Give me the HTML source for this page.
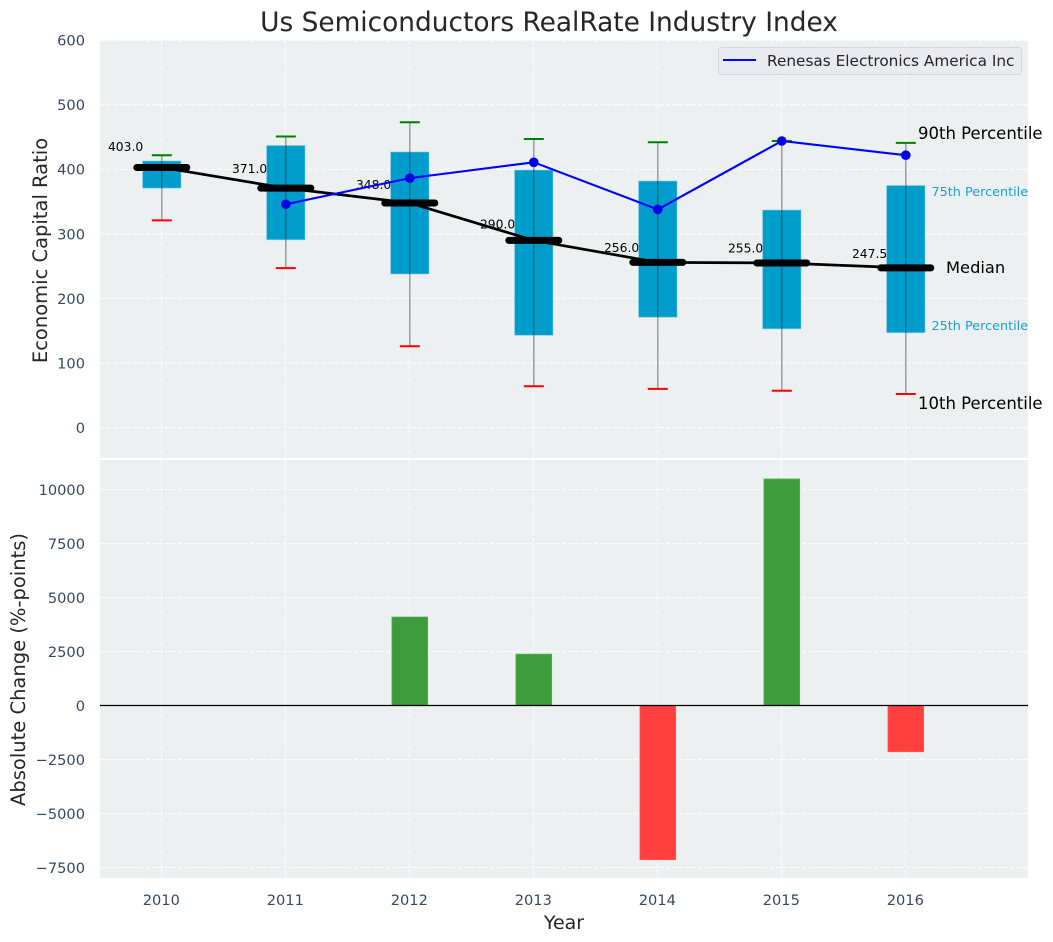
<!DOCTYPE html>
<html lang="en">
<head>
<meta charset="utf-8">
<title>Us Semiconductors RealRate Industry Index</title>
<style>
html,body{margin:0;padding:0;background:#fff;}
svg{display:block;font-family:"DejaVu Sans","Liberation Sans",sans-serif;}
</style>
</head>
<body>
<svg id="chart" xmlns="http://www.w3.org/2000/svg" width="1053" height="942" viewBox="0 0 1053 942"></svg>
<script>
const years = [2010, 2011, 2012, 2013, 2014, 2015, 2016];
const p90 = [422, 451, 473, 447, 442, 444, 441];
const p75 = [413, 437, 427, 399, 382, 337, 375];
const medians = [403, 371, 348, 290, 256, 255, 247.5];
const p25 = [371, 291, 238, 143, 171, 153, 147];
const p10 = [321, 247, 126, 64, 60, 57, 52];
const companyYears = [2011, 2012, 2013, 2014, 2015, 2016];
const companyValues = [346, 386.5, 411, 338, 444, 422];
const changeYears = [2012, 2013, 2014, 2015, 2016];
const changeValues = [4097, 2380, -7140, 10490, -2140];
const topTicks = [0, 100, 200, 300, 400, 500, 600];
const bottomTicks = [-7500, -5000, -2500, 0, 2500, 5000, 7500, 10000];

const xS = v => 161.8 + (v - 2010) * 124;
const yTop = v => 427.6 - v * 0.6455;
const yBot = v => 705.5 - v * 0.0216;

const svg = document.getElementById('chart');
const NS = 'http://www.w3.org/2000/svg';
function mk(tag, props, text) {
  const el = document.createElementNS(NS, tag);
  for (const k in props) el.setAttribute(k, props[k]);
  if (text !== undefined) el.textContent = text;
  svg.appendChild(el);
  return el;
}
let el;

// panels
el = mk('rect', {x: 100, y: 40, width: 928, height: 418, fill: '#ecf0f1'});


el = mk('rect', {x: 100, y: 460, width: 928, height: 418, fill: '#ecf0f1'});



const grid = {stroke: '#ffffff', 'stroke-width': 1.1, 'stroke-dasharray': '4.5 2', opacity: 0.9};

// vertical grid and x tick labels
years.forEach(y => {
  el = mk('line', Object.assign({x1: xS(y) - 0.3, x2: xS(y) - 0.3, y1: 40, y2: 458}, grid));
  
  
  el = mk('line', Object.assign({x1: xS(y) - 0.3, x2: xS(y) - 0.3, y1: 460, y2: 878}, grid));
  
  
  el = mk('text', {x: xS(y) - 0.5, y: 905, 'text-anchor': 'middle', 'font-size': 14.6, fill: '#34495e'}, String(y));
  
  
});

// top y grid and ticks
topTicks.forEach(t => {
  el = mk('line', Object.assign({x1: 100, x2: 1028, y1: yTop(t), y2: yTop(t)}, grid));
  
  
  el = mk('text', {x: 85, y: yTop(t) + 5.3, 'text-anchor': 'end', 'font-size': 14.6, fill: '#34495e'}, String(t));
  
  
});

// bottom y grid and ticks
bottomTicks.forEach(t => {
  el = mk('line', Object.assign({x1: 100, x2: 1028, y1: yBot(t), y2: yBot(t)}, grid));
  
  
  el = mk('text', {x: 85, y: yBot(t) + 5.3, 'text-anchor': 'end', 'font-size': 14.6, fill: '#34495e'}, String(t).replace('-', '\u2212'));
  
  
});

// median value labels (beneath boxes)
years.forEach((y, i) => {
  el = mk('text', {x: xS(y) - 18.6, y: yTop(medians[i] * 1.0625), 'text-anchor': 'end', 'font-size': 12.3, fill: '#000'}, medians[i].toFixed(1));
  
  
});

// interquartile boxes
years.forEach((y, i) => {
  el = mk('rect', {x: xS(y) - 19.2, y: yTop(p75[i]), width: 38.4, height: yTop(p25[i]) - yTop(p75[i]), fill: '#009ccc', stroke: '#7fcde6', 'stroke-width': 0.8, 'stroke-opacity': 0.7});
  
  
});

// whiskers and caps
years.forEach((y, i) => {
  el = mk('line', {x1: xS(y), x2: xS(y), y1: yTop(p90[i]), y2: yTop(p10[i]), stroke: '#333', 'stroke-opacity': 0.5, 'stroke-width': 1.4});
  
  
  el = mk('line', {x1: xS(y) - 10, x2: xS(y) + 10, y1: yTop(p90[i]), y2: yTop(p90[i]), stroke: '#008000', 'stroke-width': 2});
  
  
  el = mk('line', {x1: xS(y) - 10, x2: xS(y) + 10, y1: yTop(p10[i]), y2: yTop(p10[i]), stroke: '#ff0000', 'stroke-width': 2});
  
  
});

// median line
el = mk('polyline', {points: years.map((y, i) => xS(y) + ',' + yTop(medians[i])).join(' '), fill: 'none', stroke: '#000', 'stroke-width': 2.7});


years.forEach((y, i) => {
  el = mk('line', {x1: xS(y) - 25, x2: xS(y) + 25, y1: yTop(medians[i]), y2: yTop(medians[i]), stroke: '#000', 'stroke-width': 7, 'stroke-linecap': 'round'});
  
  
});

// company series
el = mk('polyline', {points: companyYears.map((y, i) => xS(y) + ',' + yTop(companyValues[i])).join(' '), fill: 'none', stroke: '#0000ff', 'stroke-width': 2.1});


companyYears.forEach((y, i) => {
  el = mk('circle', {cx: xS(y), cy: yTop(companyValues[i]), r: 4.8, fill: '#0000e6'});
  
  
});

// percentile annotations
const an = (t, x, y, s, c, n) => {
  const e = mk('text', {x: x, y: y, 'font-size': s, fill: c}, t);
  
  
};
an('90th Percentile', 918, 139, 16.5, '#000', 'p90-annotation');
an('10th Percentile', 918, 409, 16.5, '#000', 'p10-annotation');
an('Median', 946, 273, 16.3, '#000', 'median-annotation');
an('75th Percentile', 931.5, 196, 12.8, '#1a9fcf', 'p75-annotation');
an('25th Percentile', 931.5, 330, 12.8, '#1a9fcf', 'p25-annotation');

// legend
el = mk('rect', {x: 718.5, y: 47.5, width: 303, height: 27, rx: 3, fill: '#e9ebf0', stroke: '#d5d7d9', 'stroke-width': 1});


el = mk('line', {x1: 723, x2: 756, y1: 60, y2: 60, stroke: '#0000ff', 'stroke-width': 2});


el = mk('text', {x: 767, y: 66, 'font-size': 15.3, fill: '#262626'}, 'Renesas Electronics America Inc');



// change bars
changeYears.forEach((y, i) => {
  const v = changeValues[i];
  const y0 = Math.min(yBot(v), yBot(0));
  el = mk('rect', {x: xS(y) - 17.9, y: y0, width: 35.8, height: Math.abs(yBot(v) - yBot(0)), fill: v >= 0 ? '#3c9c3c' : '#ff3e3e', stroke: v >= 0 ? '#5cb05c' : '#ff6060', 'stroke-width': 0.7});
  
  
});
el = mk('line', {x1: 100, x2: 1028, y1: yBot(0), y2: yBot(0), stroke: '#000', 'stroke-width': 1.3});



// titles
el = mk('text', {x: 549, y: 31, 'text-anchor': 'middle', 'font-size': 26.4, fill: '#262626'}, 'Us Semiconductors RealRate Industry Index');


el = mk('text', {x: 564, y: 929, 'text-anchor': 'middle', 'font-size': 19, fill: '#262626'}, 'Year');


el = mk('text', {x: 0, y: 0, 'text-anchor': 'middle', 'font-size': 19.5, fill: '#262626', transform: 'translate(47 250.5) rotate(-90)'}, 'Economic Capital Ratio');


el = mk('text', {x: 0, y: 0, 'text-anchor': 'middle', 'font-size': 19.5, fill: '#262626', transform: 'translate(25 669.5) rotate(-90)'}, 'Absolute Change (%-points)');


</script>
</body>
</html>
